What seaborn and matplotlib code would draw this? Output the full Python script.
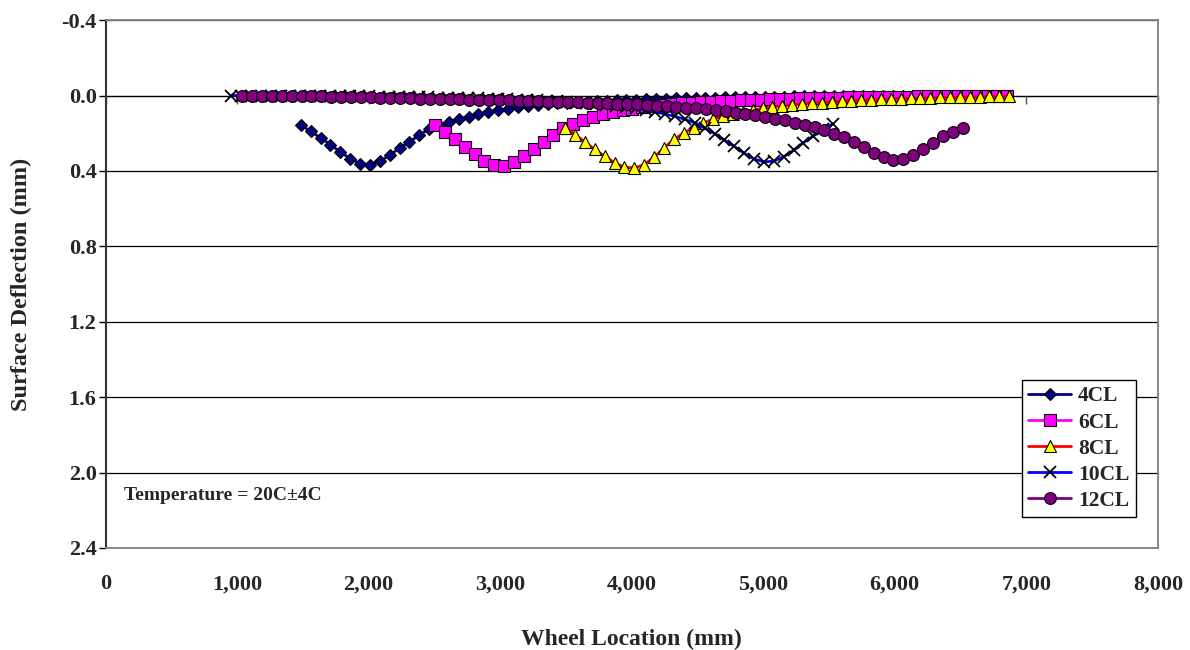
"""
Surface deflection basins under wheel loads at five load positions.
Excel-style line chart redrawn with seaborn/matplotlib.
"""
import numpy as np
import pandas as pd
import matplotlib
matplotlib.use("Agg")
import matplotlib.pyplot as plt
import matplotlib.ticker as mticker
import seaborn as sns

# Sampling step along the wheel path (mm) and first location of each series
STEP = 75
X0_4CL = 1485
X0_6CL = 2505
X0_8CL = 3495
X0_10CL = 955
X0_12CL = 1040

# Deflection readings (mm)
DEF_4CL = [0.157, 0.189, 0.225, 0.260, 0.300, 0.334, 0.361, 0.366, 0.348, 0.317,
           0.278, 0.246, 0.210, 0.177, 0.154, 0.140, 0.126, 0.113, 0.100, 0.088,
           0.078, 0.069, 0.062, 0.056, 0.051, 0.046, 0.042, 0.038, 0.035, 0.032,
           0.029, 0.027, 0.025, 0.023, 0.021, 0.019, 0.018, 0.016, 0.015, 0.014,
           0.013, 0.012, 0.011, 0.010, 0.009, 0.008, 0.008, 0.007, 0.006, 0.006,
           0.005, 0.005, 0.004, 0.004, 0.003, 0.003, 0.003, 0.002, 0.002, 0.002,
           0.002, 0.001, 0.001, 0.001, 0.001, 0.001, 0.001, 0.000, 0.000, 0.000,
           0.000, 0.000]
DEF_6CL = [0.157, 0.195, 0.230, 0.272, 0.309, 0.345, 0.371, 0.375, 0.355, 0.320,
           0.283, 0.247, 0.208, 0.174, 0.150, 0.128, 0.113, 0.100, 0.088, 0.077,
           0.069, 0.062, 0.056, 0.051, 0.046, 0.042, 0.038, 0.035, 0.032, 0.029,
           0.027, 0.025, 0.023, 0.021, 0.019, 0.017, 0.016, 0.015, 0.014, 0.013,
           0.012, 0.011, 0.010, 0.009, 0.008, 0.008, 0.007, 0.006, 0.006, 0.005,
           0.005, 0.004, 0.004, 0.003, 0.003, 0.002, 0.002, 0.001, 0.001]
DEF_8CL = [0.172, 0.207, 0.246, 0.286, 0.322, 0.357, 0.380, 0.384, 0.366, 0.327,
           0.278, 0.233, 0.198, 0.172, 0.145, 0.125, 0.110, 0.097, 0.086, 0.076,
           0.068, 0.061, 0.055, 0.050, 0.045, 0.041, 0.037, 0.033, 0.030, 0.027,
           0.025, 0.022, 0.020, 0.018, 0.016, 0.014, 0.013, 0.011, 0.010, 0.009,
           0.008, 0.007, 0.006, 0.005, 0.004, 0.004]
DEF_10CL = [0.000, 0.000, 0.000, 0.001, 0.001, 0.001, 0.002, 0.002, 0.002, 0.003,
            0.003, 0.004, 0.004, 0.005, 0.005, 0.006, 0.007, 0.007, 0.008, 0.009,
            0.010, 0.011, 0.012, 0.013, 0.014, 0.015, 0.016, 0.018, 0.020, 0.022,
            0.024, 0.026, 0.028, 0.031, 0.034, 0.037, 0.041, 0.045, 0.050, 0.055,
            0.061, 0.068, 0.077, 0.087, 0.098, 0.111, 0.126, 0.145, 0.172, 0.202,
            0.236, 0.270, 0.306, 0.336, 0.352, 0.348, 0.325, 0.290, 0.250, 0.215,
            0.180, 0.150]
DEF_12CL = [0.000, 0.001, 0.001, 0.002, 0.002, 0.003, 0.003, 0.004, 0.005, 0.006,
            0.007, 0.008, 0.009, 0.010, 0.011, 0.012, 0.013, 0.014, 0.016, 0.017,
            0.018, 0.019, 0.020, 0.021, 0.022, 0.023, 0.025, 0.026, 0.027, 0.029,
            0.030, 0.032, 0.033, 0.035, 0.036, 0.038, 0.040, 0.041, 0.043, 0.045,
            0.047, 0.050, 0.053, 0.056, 0.060, 0.064, 0.068, 0.073, 0.078, 0.084,
            0.090, 0.097, 0.105, 0.113, 0.122, 0.132, 0.143, 0.155, 0.168, 0.182,
            0.203, 0.222, 0.246, 0.274, 0.304, 0.327, 0.340, 0.334, 0.313, 0.281,
            0.251, 0.216, 0.195, 0.172]

X_TICKS = [0, 1000, 2000, 3000, 4000, 5000, 6000, 7000, 8000]
Y_TICKS = [-0.4, 0.0, 0.4, 0.8, 1.2, 1.6, 2.0, 2.4]

# label, first x, readings, line colour, marker, face colour, marker size
SERIES = [
    ("4CL", X0_4CL, DEF_4CL, "#000080", "D", "#000080", 6.2),
    ("6CL", X0_6CL, DEF_6CL, "#FF00FF", "s", "#FF00FF", 8),
    ("8CL", X0_8CL, DEF_8CL, "#FF0000", "^", "#FFFF00", 9),
    ("10CL", X0_10CL, DEF_10CL, "#0000FF", "x", "#000000", 8),
    ("12CL", X0_12CL, DEF_12CL, "#800080", "o", "#800080", 8.5),
]


def build_frame():
    parts = []
    for label, x0, vals, *_ in SERIES:
        vals = np.asarray(vals)
        parts.append(pd.DataFrame({
            "location": x0 + STEP * np.arange(len(vals)),
            "deflection": vals,
            "series": label,
        }))
    return pd.concat(parts, ignore_index=True)


def main():
    sns.set_style("white")
    plt.rcParams["font.family"] = ["Liberation Serif", "DejaVu Serif"]
    plt.rcParams["font.weight"] = "bold"
    plt.rcParams["axes.unicode_minus"] = False

    df = build_frame()

    fig = plt.figure(figsize=(11.9, 6.5), dpi=100)
    ax = fig.add_axes([0.0887, 0.157, 0.8843, 0.812])

    for label, _, _, color, marker, face, size in SERIES:
        sub = df[df["series"] == label]
        sns.lineplot(data=sub, x="location", y="deflection", ax=ax,
                     estimator=None, sort=False, color=color, linewidth=2,
                     marker=marker, markersize=size, markerfacecolor=face,
                     markeredgecolor="black",
                     markeredgewidth=1.3 if marker == "x" else 0.8,
                     label=label)

    ax.set_xlim(0, 8000)
    ax.set_ylim(2.4, -0.4)
    ax.set_xticks(X_TICKS)
    ax.set_yticks(Y_TICKS)
    ax.xaxis.set_major_formatter(mticker.FuncFormatter(lambda v, p: f"{v:,.0f}"))
    ax.yaxis.set_major_formatter(mticker.FormatStrFormatter("%.1f"))
    ax.tick_params(axis="x", length=0, pad=19, labelsize=16)
    ax.tick_params(axis="y", direction="out", length=5, width=1, color="black",
                   left=True, pad=1.5, labelsize=16)
    for lab in ax.get_xticklabels() + ax.get_yticklabels():
        lab.set_fontweight("bold")

    ax.yaxis.grid(True, color="black", linewidth=0.9)
    ax.xaxis.grid(False)
    for side in ("top", "right", "bottom"):
        ax.spines[side].set_color("#808080")
        ax.spines[side].set_linewidth(1.3)
    ax.spines["left"].set_color("#333333")
    ax.spines["left"].set_linewidth(1.5)

    # horizontal axis crosses at zero deflection, ticks hang from it
    zero_frac = 2.4 / 2.8
    sec = ax.secondary_xaxis(zero_frac)
    sec.set_alignment("bottom")
    sec.set_xticks(X_TICKS)
    sec.tick_params(axis="x", direction="out", length=6, width=1,
                    color="#555555", labelbottom=False)
    sec.spines["bottom"].set_color("#555555")
    sec.spines["bottom"].set_linewidth(0.9)

    ax.set_xlabel("Wheel Location (mm)", fontsize=17, fontweight="bold",
                  labelpad=25)
    ax.set_ylabel("Surface Deflection (mm)", fontsize=17.5, fontweight="bold",
                  labelpad=21)

    ax.text(0.018, 0.10, "Temperature = 20C±4C", transform=ax.transAxes,
            fontsize=14, fontweight="bold", va="center", ha="left")

    leg = ax.legend(loc="lower right", bbox_to_anchor=(0.979, 0.058),
                    frameon=True, fancybox=False, framealpha=1,
                    edgecolor="black", prop={"weight": "bold", "size": 15.5},
                    handlelength=2.0, handletextpad=0.3, labelspacing=0.28,
                    borderpad=0.3, borderaxespad=0)
    leg.get_frame().set_linewidth(1.0)

    fig.savefig("out.png", dpi=100)
    plt.close(fig)


if __name__ == "__main__":
    main()
